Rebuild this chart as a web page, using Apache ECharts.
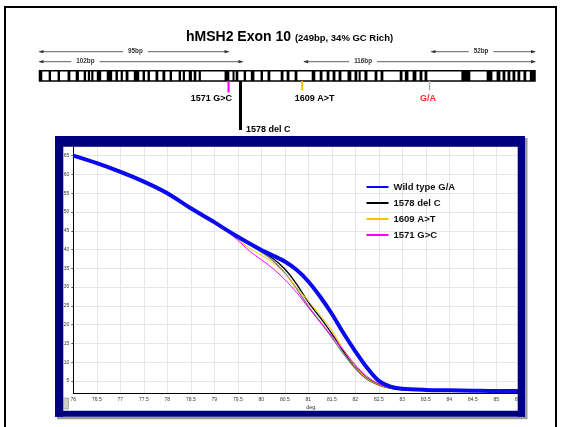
<!DOCTYPE html>
<html><head><meta charset="utf-8">
<script src="https://cdn.jsdelivr.net/npm/echarts@6/dist/echarts.min.js"></script>
<style>html,body{margin:0;padding:0;background:#fff}#c{width:564px;height:427px}</style>
</head><body><div id="c"></div>
<script>
// ---------- DATA ----------
const geneLength = 249;
// black stripes on the exon map, [startBp, endBp]
const stripes = [[0,1.4],[4.6,5.8],[9.1,10.3],[14.1,15.5],[18.2,19.8],[22.2,23.4],[24.3,25.4],[26,27.1],[28.8,31],
  [33.8,36.5],[38.2,39.4],[40.8,41.9],[43.3,44.7],[47.4,50.1],[51.8,53],[54.3,55.5],[58.3,59.7],[61.8,63.2],[65.4,66.6],
  [69.9,71.1],[72,73.1],[75,76.6],[77.5,78.8],[80,81.1],[93,95.4],[97,98],[98.6,99.9],[102.6,103.8],
  [106.2,108],[111.1,112.3],[114.6,116],[121.2,122.6],[124.2,125.6],[128.2,129.6],[136.8,138.6],[140.8,142.2],
  [144.3,145.7],[147.3,148.7],[150.3,151.7],[154.8,156.7],[158.3,159.7],[160.4,161.4],[163.3,164.8],[168.4,169.8],
  [171.4,172.8],[181,182.4],[183.6,185.4],[187.5,189.4],[191,192.4],[193.5,194.9],[212,216.5],[224.7,227.6],
  [229.7,231.6],[232.7,234.1],[235.2,236.6],[237.7,239.1],[240.2,241.6],[243.2,244.6],[246.4,249]];
const ampliconNames = ['95bp', '102bp', '116bp', '52bp'];
const ampliconStart = [0, 0, 133, 197];
const ampliconEnd = [95, 102, 249, 249];
const ampliconLane = [0, 1, 1, 0];
const mutationNames = ['1571 G>C', '1578 del C', '1609 A>T', 'G/A'];
const mutationBp = [95, 101, 132, 196];

const temps = [76, 76.5, 77, 77.5, 78, 78.5, 79, 79.25, 79.5, 79.75, 80, 80.25, 80.5, 80.75, 81, 81.25, 81.5, 81.75, 82, 82.25, 82.5, 82.75, 83, 83.5, 84, 84.5, 85, 85.5];
const wildType = [65.0, 63.0, 60.7, 58.1, 55.0, 51.0, 47.3, 45.3, 43.4, 41.6, 39.9, 38.4, 36.8, 34.6, 31.5, 27.5, 22.9, 17.7, 12.9, 8.5, 5.0, 3.5, 2.9, 2.6, 2.5, 2.4, 2.3, 2.3];
const delC = [65.0, 63.2, 61.0, 58.4, 55.3, 51.2, 47.4, 45.4, 43.4, 41.5, 39.6, 37.6, 34.8, 30.8, 26.0, 21.9, 17.6, 12.9, 8.8, 5.7, 4.0, 3.1, 2.7, 2.5, 2.4, 2.4, 2.3, 2.3];
const delCRep = [65.0, 63.1, 60.9, 58.3, 55.2, 51.1, 47.3, 45.3, 43.2, 41.3, 39.3, 37.0, 33.8, 29.6, 24.9, 20.8, 16.6, 12.2, 8.3, 5.4, 3.9, 3.0, 2.6, 2.5, 2.4, 2.3, 2.3, 2.3];
const a1609T = [65.0, 63.0, 60.6, 58.0, 54.9, 50.9, 47.2, 45.1, 42.8, 40.3, 38.5, 36.5, 33.6, 29.9, 26.3, 22.5, 18.5, 13.3, 8.8, 5.6, 4.0, 3.1, 2.7, 2.5, 2.4, 2.4, 2.3, 2.3];
const g1571C = [65.0, 63.0, 60.6, 58.0, 54.9, 50.9, 47.2, 45.0, 42.5, 39.6, 37.3, 34.9, 32.0, 28.6, 24.6, 20.7, 17.0, 13.2, 9.3, 6.2, 4.2, 3.2, 2.7, 2.5, 2.4, 2.3, 2.3, 2.3];
const seriesNames = ['Wild type G/A', '1578 del C', '1609 A>T', '1571 G>C'];
const xMin = 76, xMax = 85.5, xStep = 0.5;
const yMin = 1.7, yMax = 67.4;

// ---------- CHART ----------
const chart = echarts.init(document.getElementById('c'), null, {renderer: 'canvas'});
const FF = 'Liberation Sans, Arial, sans-serif';
const pair = arr => temps.map((t, i) => [t, arr[i]]);

const mutColor = ['#ff00ff', '#000000', '#ffc000', '#b4b4b4'];
const mutLineEnd = [92.5, 130, 90.5, 90.5];
const mutLineW = [2.2, 3, 2, 1.5];
const ampLabelBp = [48.2, 23.1, 162.6, 221.9];
const laneY = [51.7, 61.7];

const option = {
  animation: false,
  backgroundColor: '#fff',
  title: {
    text: '{a|hMSH2 Exon 10 }{b|(249bp, 34% GC Rich)}',
    left: 181, top: 22,
    textStyle: {rich: {
      a: {fontSize: 14, fontWeight: 'bold', fontFamily: FF, color: '#000', verticalAlign: 'bottom', lineHeight: 17},
      b: {fontSize: 9.5, fontWeight: 'bold', fontFamily: FF, color: '#000', verticalAlign: 'bottom', lineHeight: 17, padding: [0, 0, 1, 0]}
    }}
  },
  legend: {
    data: seriesNames, orient: 'vertical', left: 360.5, top: 177,
    itemWidth: 22, itemHeight: 12, itemGap: 6, itemStyle: {opacity: 0},
    lineStyle: {width: 2},
    textStyle: {fontFamily: FF, fontWeight: 'bold', fontSize: 9.5, color: '#111'},
    selectedMode: false
  },
  grid: [
    {left: 73.3, right: 44.2, top: 146.7, bottom: 33.7},
    {left: 39.5, right: 29, top: 70.7, height: 10.3}
  ],
  xAxis: [
    {type: 'value', min: xMin, max: xMax, interval: xStep, gridIndex: 0,
     name: 'deg.', nameLocation: 'middle', nameGap: 11.5, nameMoveOverlap: false,
     nameTextStyle: {fontSize: 5.5, fontFamily: FF, color: '#333', padding: [0, 0, 0, 30]},
     axisLine: {lineStyle: {color: '#000', width: 1}},
     axisTick: {show: false},
     axisLabel: {fontSize: 5, fontFamily: FF, color: '#333', margin: 4},
     splitLine: {lineStyle: {color: '#e6e6e6', width: 1}}},
    {type: 'value', min: 0, max: geneLength, gridIndex: 1, show: false}
  ],
  yAxis: [
    {type: 'value', min: yMin, max: yMax, splitNumber: 13, gridIndex: 0,
     axisLine: {show: true, lineStyle: {color: '#000', width: 1}},
     axisTick: {show: true, length: 2, lineStyle: {color: '#555'}},
     axisLabel: {fontSize: 5, fontFamily: FF, color: '#333', margin: 4, showMinLabel: false, showMaxLabel: false},
     splitLine: {lineStyle: {color: '#e6e6e6', width: 1}}},
    {type: 'value', min: 0, max: 1, gridIndex: 1, show: false}
  ],
  series: [
    {type: 'line', name: '1578 del C rep', data: pair(delCRep), symbol: 'none', smooth: 0.3, lineStyle: {color: '#7a7a7a', width: 1.3}, z: 2, silent: true},
    {type: 'line', name: seriesNames[1], data: pair(delC), symbol: 'none', smooth: 0.3, lineStyle: {color: '#000', width: 1.3}, itemStyle: {color: '#000'}, z: 3},
    {type: 'line', name: seriesNames[2], data: pair(a1609T), symbol: 'none', smooth: 0.3, lineStyle: {color: '#ffc000', width: 1}, itemStyle: {color: '#ffc000'}, z: 3},
    {type: 'line', name: seriesNames[3], data: pair(g1571C), symbol: 'none', smooth: 0.3, lineStyle: {color: '#ff00ff', width: 1}, itemStyle: {color: '#ff00ff'}, z: 3},
    {type: 'line', name: seriesNames[0], data: pair(wildType), symbol: 'none', smooth: 0.3, lineStyle: {color: '#0a0aee', width: 4}, itemStyle: {color: '#0a0aee'}, z: 4},
    // gene map stripes
    {type: 'custom', name: 'stripes', xAxisIndex: 1, yAxisIndex: 1, silent: true, data: stripes,
     renderItem: (params, api) => {
       const p0 = api.coord([api.value(0), 1]);
       const p1 = api.coord([api.value(1), 0]);
       return {type: 'rect', shape: {x: p0[0], y: p0[1], width: p1[0] - p0[0], height: p1[1] - p0[1]}, style: {fill: '#000'}};
     }},
    // gene outline
    {type: 'custom', name: 'outline', xAxisIndex: 1, yAxisIndex: 1, silent: true, data: [[0, geneLength]],
     renderItem: (params, api) => {
       const p0 = api.coord([api.value(0), 1]);
       const p1 = api.coord([api.value(1), 0]);
       return {type: 'rect', shape: {x: p0[0], y: p0[1], width: p1[0] - p0[0], height: p1[1] - p0[1]}, style: {fill: 'none', stroke: '#000', lineWidth: 1.5}};
     }},
    // amplicon arrows
    {type: 'custom', name: 'amplicons', xAxisIndex: 1, yAxisIndex: 1, silent: true,
     data: ampliconNames.map((n, i) => [ampliconStart[i], ampliconEnd[i], ampliconLane[i], i]),
     renderItem: (params, api) => {
       const i = api.value(3);
       const x0 = api.coord([api.value(0), 0])[0];
       const x1 = api.coord([api.value(1), 0])[0];
       const xl = api.coord([ampLabelBp[i], 0])[0];
       const y = laneY[api.value(2)];
       const c = '#333';
       return {type: 'group', children: [
         {type: 'line', shape: {x1: x0, y1: y, x2: x1, y2: y}, style: {stroke: c, lineWidth: 0.8}},
         {type: 'polygon', shape: {points: [[x0 - 1, y], [x0 + 4, y - 1.6], [x0 + 4, y + 1.6]]}, style: {fill: c}},
         {type: 'polygon', shape: {points: [[x1 + 1, y], [x1 - 4, y - 1.6], [x1 - 4, y + 1.6]]}, style: {fill: c}},
         {type: 'text', x: xl, y: y, style: {text: ampliconNames[i], fontSize: 6.3, fontFamily: FF, fontWeight: 'bold', fill: '#333',
           align: 'center', verticalAlign: 'middle', backgroundColor: '#fff', padding: [0, 5]}}
       ]};
     }},
    // mutation markers
    {type: 'custom', name: 'mutations', xAxisIndex: 1, yAxisIndex: 1, silent: true,
     data: mutationBp.map((b, i) => [b, i]),
     renderItem: (params, api) => {
       const i = api.value(1);
       const x = api.coord([api.value(0), 0])[0];
       const yb = api.coord([api.value(0), 0])[1];
       const labelPos = [
         {x: x + 3.5, y: 99, align: 'right', fill: '#000'},
         {x: x + 5.5, y: 130, align: 'left', fill: '#000'},
         {x: x - 7.5, y: 99, align: 'left', fill: '#000'},
         {x: x - 1.5, y: 99, align: 'center', fill: '#ff2a2a'}
       ][i];
       return {type: 'group', children: [
         {type: 'line', shape: {x1: x, y1: yb, x2: x, y2: mutLineEnd[i]}, style: {stroke: mutColor[i], lineWidth: mutLineW[i]}},
         {type: 'text', x: labelPos.x, y: labelPos.y, style: {text: mutationNames[i], fontSize: 9, fontWeight: 'bold', fontFamily: FF,
           fill: labelPos.fill, align: labelPos.align, verticalAlign: 'middle'}}
       ]};
     }}
  ],
  graphic: [
    // outer page frame
    {type: 'rect', shape: {x: 5, y: 7, width: 551, height: 440}, style: {fill: 'none', stroke: '#000', lineWidth: 2}, z: 1, silent: true},
    // panel shadow
    {type: 'rect', shape: {x: 57, y: 416.7, width: 470, height: 2.5}, style: {fill: '#9a9a9a'}, z: 100, silent: true},
    {type: 'rect', shape: {x: 525, y: 138, width: 2.5, height: 281}, style: {fill: '#9a9a9a'}, z: 100, silent: true},
    // navy panel frame
    {type: 'rect', shape: {x: 55, y: 136, width: 470, height: 10.7}, style: {fill: '#00007f'}, z: 100, silent: true},
    {type: 'rect', shape: {x: 55, y: 410.7, width: 470, height: 6}, style: {fill: '#00007f'}, z: 100, silent: true},
    {type: 'rect', shape: {x: 55, y: 136, width: 8.3, height: 280.7}, style: {fill: '#00007f'}, z: 100, silent: true},
    {type: 'rect', shape: {x: 517.7, y: 136, width: 7.3, height: 280.7}, style: {fill: '#00007f'}, z: 100, silent: true},
    // small corner button
    {type: 'rect', shape: {x: 63.5, y: 398, width: 5, height: 11}, style: {fill: '#cfcfc4', stroke: '#8a8a80', lineWidth: 0.6}, z: 100, silent: true}
  ]
};
chart.setOption(option);
</script>
</body></html>
